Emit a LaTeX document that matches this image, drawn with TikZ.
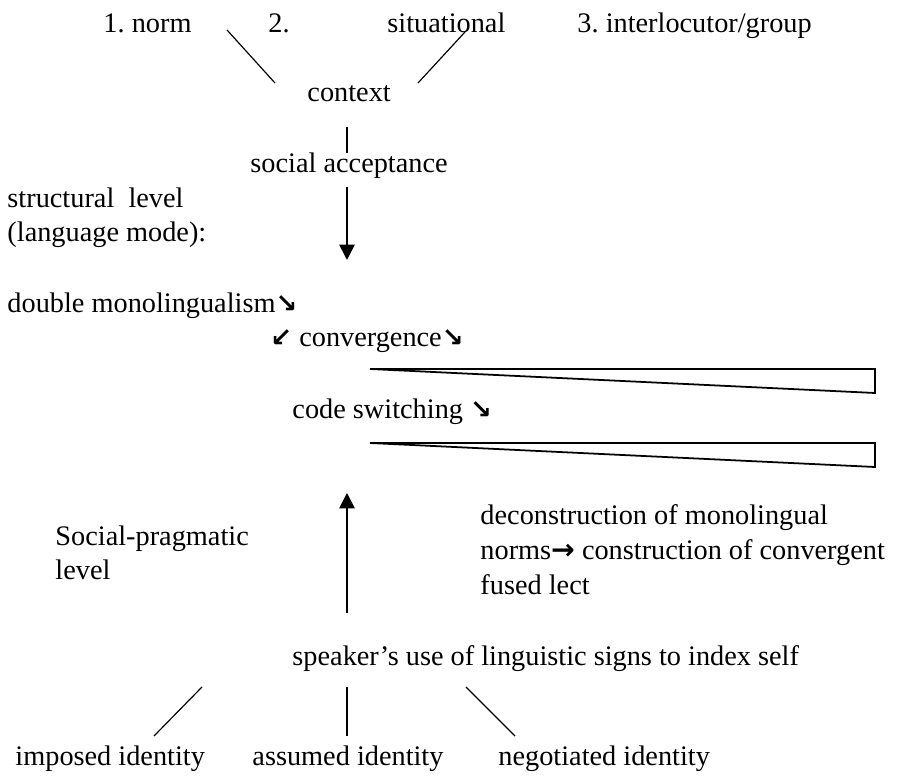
\documentclass[tikz,border=0pt]{standalone}
\usepackage{fontspec}
\setmainfont{Liberation Serif}
\newfontfamily\arrowfont{DejaVu Sans}
\usepackage{tikz}
\usetikzlibrary{arrows.meta}
\frenchspacing
\newcommand{\arrSE}{{\arrowfont\bfseries\fontsize{11}{12}\selectfont ↘}}
\newcommand{\arrSW}{{\arrowfont\bfseries\fontsize{11}{12}\selectfont ↙}}
\newcommand{\arrE}{{\arrowfont\bfseries\fontsize{12}{13}\selectfont →}}

\begin{document}
\begin{tikzpicture}[x=.424pt,y=-.424pt,font=\fontsize{12}{14}\selectfont,
  txt/.style={inner sep=0,anchor=base west},
  ln/.style={line width=.5pt},
  arr/.style={line width=.75pt,-{Triangle[width=6.5pt,length=6.5pt]}},
  wedge/.style={line width=.75pt,line join=miter}]
\useasboundingbox (0,0) rectangle (904,777);
% context
\node[txt] (norm) at (103,33){1. norm};
\node[txt] (two) at (268,33){2.};
\node[txt] (situ) at (387,33){situational};
\node[txt] (group) at (577,33){3. interlocutor/group};
\node[txt] (ctx) at (307,102){context};
\coordinate (c1) at (227,30); \coordinate (c2) at (275,83);
\coordinate (c3) at (418,83); \coordinate (c4) at (465,32);
\draw[ln] (c1)--(c2); \draw[ln] (c3)--(c4);
\coordinate (c5) at (347,127); \coordinate (c6) at (347,153);
\draw[ln] (c5)--(c6);
\node[txt] (accept) at (250,173){social acceptance};
\coordinate (d1) at (347,187); \coordinate (d2) at (347,260);
\draw[arr] (d1)--(d2);
% structural level
\node[txt] (struct) at (7,208){structural\ \ level};
\node[txt] (mode) at (7,242){(language mode):};
\node[txt] (double) at (7,313){double monolingualism\arrSE};
\node[txt] (conv) at (270,347){\arrSW{} convergence\arrSE};
\coordinate (w1) at (370,369); \coordinate (w2) at (875,369); \coordinate (w3) at (875,393);
\draw[wedge] (w1)--(w2)--(w3)--cycle;
\node[txt] (cs) at (292,419){code switching \arrSE};
\coordinate (w4) at (370,443); \coordinate (w5) at (875,443); \coordinate (w6) at (875,467);
\draw[wedge] (w4)--(w5)--(w6)--cycle;
% social-pragmatic level
\coordinate (u1) at (347,613); \coordinate (u2) at (347,493);
\draw[arr] (u1)--(u2);
\node[txt] (soc) at (55,546){Social-pragmatic};
\node[txt] (lev) at (55,580){level};
\node[txt] (dec1) at (480,525){deconstruction of monolingual};
\node[txt] (dec2) at (480,560){norms\arrE{} construction of convergent};
\node[txt] (dec3) at (480,595){fused lect};
\node[txt] (self) at (292,666){speaker’s use of linguistic signs to index self};
\coordinate (b1) at (202,687); \coordinate (b2) at (154,736);
\coordinate (b3) at (347,687); \coordinate (b4) at (347,736);
\coordinate (b5) at (466,687); \coordinate (b6) at (515,736);
\draw[ln] (b1)--(b2); \draw[ln] (b3)--(b4); \draw[ln] (b5)--(b6);
\node[txt] (imp) at (15,765){imposed identity};
\node[txt] (ass) at (252,765){assumed identity};
\node[txt] (neg) at (498,765){negotiated identity};
\end{tikzpicture}
\end{document}
